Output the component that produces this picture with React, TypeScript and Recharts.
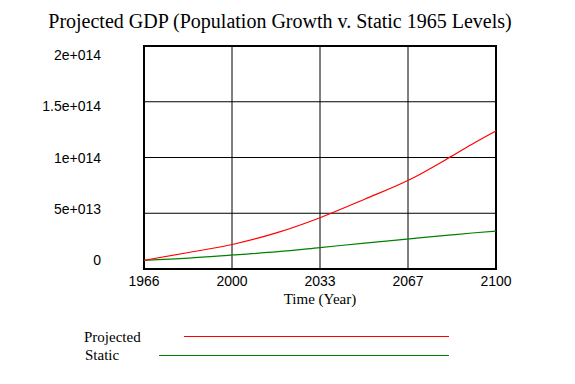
import React from 'react';
import { LineChart, Line, XAxis, YAxis, CartesianGrid, ReferenceArea, Label } from 'recharts';

const years = [1966, 1983, 2000, 2017, 2033, 2050, 2067, 2083, 2092, 2100];
const projected = [7.8e12, 14.8e12, 22.2e12, 32.8e12, 46e12, 62.6e12, 80e12, 101e12, 113.5e12, 123.9e12];
const staticLevels = [7.8e12, 9.8e12, 12.6e12, 15.5e12, 19.2e12, 23.2e12, 27e12, 30.6e12, 32.5e12, 33.9e12];

const xTicks = [1966, 1999.5, 2033, 2066.5, 2100];
const xTickLabels = ['1966', '2000', '2033', '2067', '2100'];
const yTicks = [0, 5e13, 1e14, 1.5e14, 2e14];
const yTickLabels = ['0', '5e+013', '1e+014', '1.5e+014', '2e+014'];

const data = years.map((year, i) => ({ year, projected: projected[i], static: staticLevels[i] }));

const serif = '"Liberation Serif", "Times New Roman", serif';
const sans = '"Liberation Sans", Arial, sans-serif';

function YTick(props: any) {
    const { x, y, payload } = props;
    const i = yTicks.indexOf(payload.value);
    // labels sit a little closer together than the gridlines
    const dy = (158 - y) * 0.08;
    return (
        <text x={x} y={y + dy} textAnchor="end" dominantBaseline="central" fontSize={14} fontFamily={sans} fill="#000">
            {yTickLabels[i]}
        </text>
    );
}

function XTick(props: any) {
    const { x, y, payload } = props;
    const i = xTicks.indexOf(payload.value);
    return (
        <text x={x} y={y} textAnchor="middle" dominantBaseline="hanging" fontSize={14} fontFamily={sans} fill="#000">
            {xTickLabels[i]}
        </text>
    );
}

export default function App() {
    return (
        <div style={{ position: 'absolute', left: 0, top: 0, width: 575, height: 384, background: '#fff' }}>
            <div
                style={{
                    position: 'absolute', left: 0, top: 9, width: 560, textAlign: 'center',
                    fontFamily: serif, fontSize: 20, lineHeight: '24px', color: '#000'
                }}
            >
                Projected GDP (Population Growth v. Static 1965 Levels)
            </div>
            <LineChart
                width={575}
                height={384}
                data={data}
                margin={{ top: 46, right: 79, bottom: 91, left: 0 }}
            >
                <CartesianGrid stroke="#000" strokeWidth={1} horizontalValues={yTicks} verticalValues={xTicks} />
                <XAxis
                    dataKey="year"
                    type="number"
                    domain={[1966, 2100]}
                    ticks={xTicks}
                    tickLine={false}
                    axisLine={false}
                    tickSize={0}
                    tickMargin={7}
                    height={24}
                    tick={<XTick />}
                    interval={0}
                >
                    <Label value="Time (Year)" position="bottom" offset={0} style={{ fontFamily: serif, fontSize: 15, fill: '#000' }} />
                </XAxis>
                <YAxis
                    type="number"
                    domain={[0, 2e14]}
                    ticks={yTicks}
                    tickLine={false}
                    axisLine={false}
                    tickSize={0}
                    tickMargin={43}
                    width={144}
                    tick={<YTick />}
                    interval={0}
                />
                <Line type="monotone" dataKey="static" stroke="#008000" strokeWidth={1.2} dot={false} isAnimationActive={false} />
                <Line type="monotone" dataKey="projected" stroke="#ff0000" strokeWidth={1.2} dot={false} isAnimationActive={false} />
                <ReferenceArea x1={1966} x2={2100} y1={0} y2={2e14} fill="none" stroke="#000" strokeWidth={2} ifOverflow="visible" />
            </LineChart>
            <div style={{ position: 'absolute', left: 84, top: 328, fontFamily: serif, fontSize: 15, lineHeight: '18px' }}>Projected</div>
            <div style={{ position: 'absolute', left: 85, top: 346, fontFamily: serif, fontSize: 15, lineHeight: '18px' }}>Static</div>
            <svg style={{ position: 'absolute', left: 0, top: 0 }} width={575} height={384} pointerEvents="none">
                <line x1={184} x2={449} y1={336.5} y2={336.5} stroke="#ff0000" strokeWidth={1} />
                <line x1={159} x2={449} y1={355.5} y2={355.5} stroke="#008000" strokeWidth={1} />
            </svg>
        </div>
    );
}
